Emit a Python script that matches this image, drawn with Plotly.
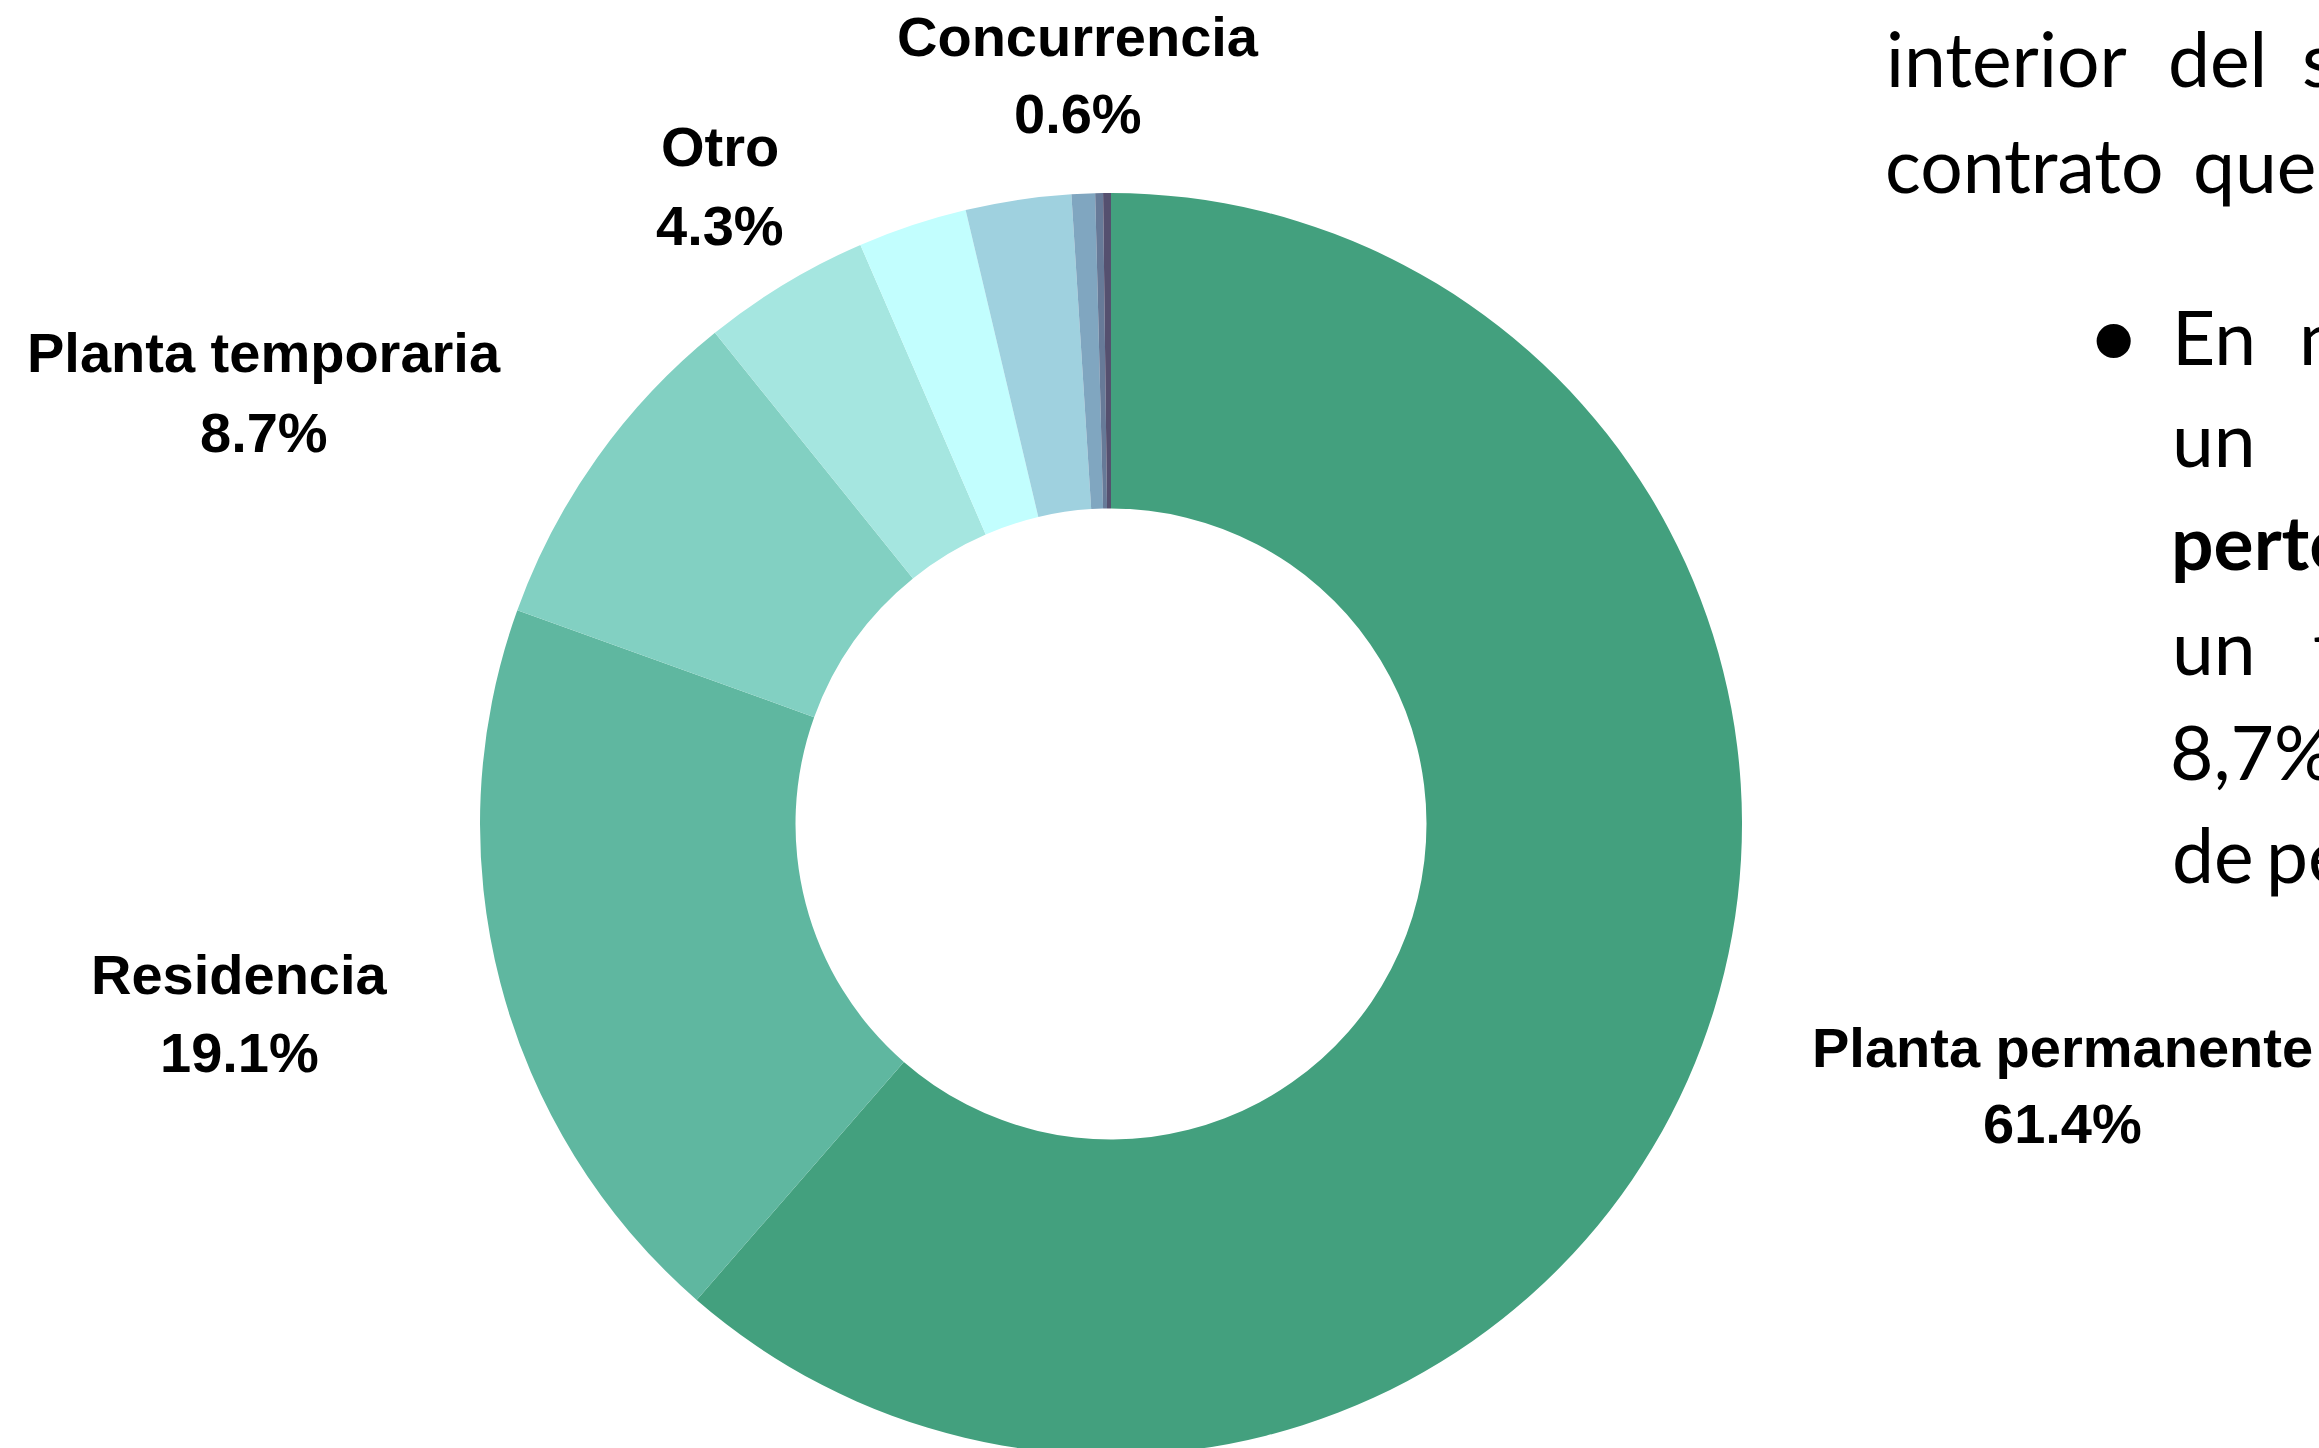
import plotly.graph_objects as go

W, H = 2319, 1456

# ---- data ----
categorias = ["Planta permanente", "Residencia", "Planta temporaria", "Otro",
              "Contrato", "Beca", "Concurrencia", "Ad honorem", "Sin dato"]
porcentajes = [61.4, 19.1, 8.7, 4.3, 2.8, 2.7, 0.6, 0.2, 0.2]
colores = ["#43a07e", "#5fb7a0", "#82d0c2", "#a5e6e0", "#c2fefe",
           "#9fd1df", "#80a6c0", "#677a98", "#55506f"]

# labelled slices: (name, centre x px, name baseline px, pct baseline px)
etiquetas = [
    ("Planta permanente", 2062, 1067, 1143),
    ("Residencia", 239, 994, 1072),
    ("Planta temporaria", 264, 372, 452),
    ("Otro", 720, 166, 245),
    ("Concurrencia", 1078, 56, 133),
]

# side text (slide body, cut at right edge): (text, x px, baseline px, bold)
texto_lateral = [
    ("interior", 1886, 87, False), ("del", 2168, 87, False), ("sistema", 2302, 87, False),
    ("contrato", 1885, 193, False), ("que", 2193, 193, False),
    ("En", 2172, 365, False), ("nuestro", 2299, 365, False),
    ("un", 2172, 467, False),
    ("pertenece", 2171, 570, True),
    ("un", 2172, 675, False), ("total", 2313, 675, False),
    ("8,7%", 2170, 780, False),
    ("de", 2172, 883, False), ("personal", 2266, 883, False),
]

fig = go.Figure(go.Pie(
    labels=categorias,
    values=porcentajes,
    marker=dict(colors=colores, line=dict(width=0)),
    hole=0.5,
    sort=False,
    direction="clockwise",
    rotation=0,
    textinfo="none",
    showlegend=False,
    domain=dict(x=[480 / W, 1742 / W], y=[1 - 1455 / H, 1 - 193 / H]),
))

def px(x):
    return x / W

def py(y):
    return 1 - y / H

LBL = 56
ann = []
for nombre, cx, b1, b2 in etiquetas:
    v = porcentajes[categorias.index(nombre)]
    for txt, base in ((nombre, b1), (f"{v:.1f}%", b2)):
        ann.append(dict(text=f"<b>{txt}</b>", x=px(cx), y=py(base - 0.347 * LBL),
                        xref="paper", yref="paper", xanchor="center", yanchor="middle",
                        showarrow=False, borderpad=0, borderwidth=0,
                        font=dict(family="Liberation Sans, Arial", size=LBL, color="#000000")))

TXT = 75
for txt, x, base, bold in texto_lateral:
    t = f"<b>{txt}</b>" if bold else txt
    ann.append(dict(text=t, x=px(x), y=py(base - 0.387 * TXT),
                    xref="paper", yref="paper", xanchor="left", yanchor="middle",
                    showarrow=False, borderpad=0, borderwidth=0,
                    font=dict(family="Lato, Open Sans, sans-serif", size=TXT, color="#000000")))

ann.append(dict(text="•", x=px(2113), y=py(333), xref="paper", yref="paper",
                xanchor="center", yanchor="middle", showarrow=False,
                borderpad=0, borderwidth=0,
                font=dict(family="Lato, sans-serif", size=92, color="#000000")))

fig.update_layout(
    width=W, height=H,
    margin=dict(l=0, r=0, t=0, b=0),
    paper_bgcolor="#ffffff", plot_bgcolor="#ffffff",
    annotations=ann,
)

fig.write_html("out.html", config={"displayModeBar": False},
               post_script="document.body.style.margin='0';document.body.style.overflow='hidden';document.documentElement.style.overflow='hidden';")
